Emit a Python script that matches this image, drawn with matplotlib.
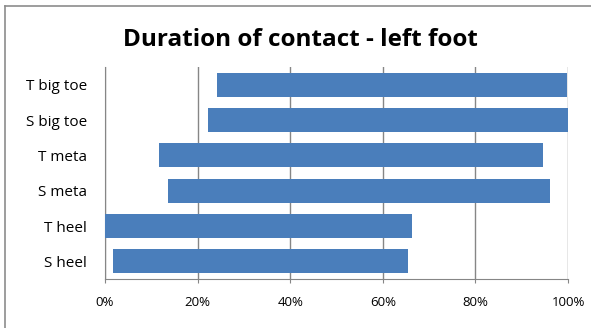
import matplotlib.pyplot as plt
from matplotlib.lines import Line2D

# contact phases, top to bottom, in % of stance
labels = ['T big toe', 'S big toe', 'T meta', 'S meta', 'T heel', 'S heel']
start = [24.2, 22.2, 11.7, 13.6, 0.0, 1.7]
end = [99.8, 100.0, 94.5, 96.1, 66.2, 65.4]

ticks = [0, 20, 40, 60, 80, 100]
tick_labels = ['0%', '20%', '40%', '60%', '80%', '100%']

plt.rcParams['font.family'] = ['Open Sans', 'DejaVu Sans']

fig = plt.figure(figsize=(5.91, 3.28), dpi=100)
ax = fig.add_axes([105 / 591, 1 - 279 / 328, 463 / 591, 212 / 328])

widths = [e - s for s, e in zip(start, end)]
ax.barh(range(len(labels)), widths, left=start, height=0.68,
        color='#4A7EBB', zorder=3)

ax.set_xlim(0, 100)
ax.set_ylim(len(labels) - 0.5, -0.5)
ax.set_yticks(range(len(labels)))
ax.set_yticklabels(labels, fontsize=11)
ax.set_xticks(ticks)
ax.set_xticklabels(tick_labels, fontsize=9.5)

ax.grid(axis='x', color='#868686', linewidth=1, zorder=0)
for side in ['top', 'right']:
    ax.spines[side].set_visible(False)
for side in ['left', 'bottom']:
    ax.spines[side].set_color('#868686')
ax.tick_params(axis='x', length=3, color='#868686', pad=9)
ax.tick_params(axis='y', length=0, pad=13)

fig.text(0.508, 1 - 40 / 328, 'Duration of contact - left foot',
         ha='center', va='center', fontsize=17.5, fontweight='bold')

# chart frame (only top and left edges are visible in the crop)
fig.add_artist(Line2D([5 / 591, 5 / 591], [0, 1 - 6 / 328],
                      transform=fig.transFigure, color='#8c8c8c', lw=1.2))
fig.add_artist(Line2D([5 / 591, 1], [1 - 6 / 328, 1 - 6 / 328],
                      transform=fig.transFigure, color='#8c8c8c', lw=1.2))

fig.savefig('out.png', dpi=100)
